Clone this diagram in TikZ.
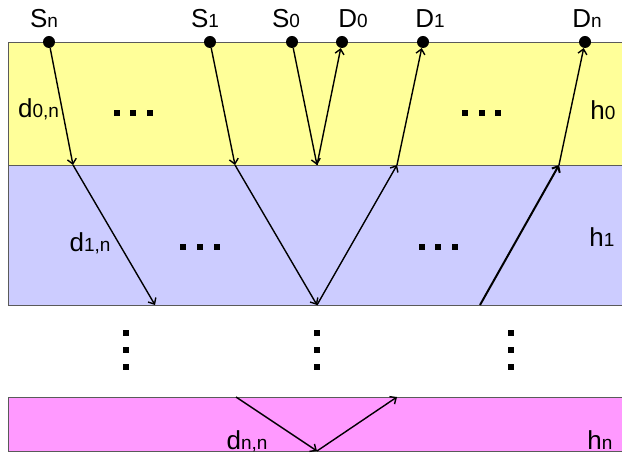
\documentclass[tikz,border=0pt]{standalone}
\usepackage{fontspec}
\setmainfont{Liberation Sans}
\usetikzlibrary{arrows.meta}
\definecolor{layY}{HTML}{FFFF99}
\definecolor{layB}{HTML}{CCCCFF}
\definecolor{layP}{HTML}{FF99FF}
\definecolor{edgeG}{HTML}{5A5A5A}
\newcommand\sbs[1]{{\fontsize{19}{19}\selectfont #1}}
\begin{document}
\begin{tikzpicture}[x=1pt,y=-1pt,
  lbl/.style={font=\fontsize{26}{26}\selectfont, anchor=base, inner sep=0pt},
  dotnode/.style={circle, fill=black, minimum size=12pt, inner sep=0pt},
  sqnode/.style={rectangle, fill=black, minimum size=6pt, inner sep=0pt},
  layer/.style={draw=edgeG, line width=0.8pt},
  ray/.style={line width=1.4pt, -{Straight Barb[length=5pt,width=9pt]}}]
\useasboundingbox (0,0) rectangle (622,454);
% layers
\fill[layY] (8,42) rectangle (630,165);
\fill[layB] (8,165) rectangle (630,305);
\fill[layP] (8,397) rectangle (630,451);
\draw[layer] (630,42) -- (8,42) -- (8,305) -- (630,305);
\draw[layer] (8,165) -- (630,165);
\draw[layer] (630,397) -- (8,397) -- (8,451) -- (630,451);
% sources / detectors
\node[dotnode] (Sn) at (49,42) {};
\node[dotnode] (S1) at (210,42) {};
\node[dotnode] (S0) at (292,42) {};
\node[dotnode] (D0) at (342,42) {};
\node[dotnode] (D1) at (423,42) {};
\node[dotnode] (Dn) at (585,42) {};
% interface points
\coordinate (a1) at (73,165);
\coordinate (b1) at (155,305);
\coordinate (a2) at (235,165);
\coordinate (b2) at (317,305);
\coordinate (a3) at (317,165);
\coordinate (c2) at (397,165);
\coordinate (b4) at (480,305);
\coordinate (c3) at (559,165);
\coordinate (p1) at (236,397);
\coordinate (p2) at (317,451);
\coordinate (p3) at (397,397);
% rays
\draw[ray] (Sn) -- (a1);
\draw[ray] (a1) -- (b1);
\draw[ray] (S1) -- (a2);
\draw[ray] (a2) -- (b2);
\draw[ray] (S0) -- (a3);
\draw[ray] (a3) -- (D0);
\draw[ray] (b2) -- (c2);
\draw[ray] (c2) -- (D1);
\draw[ray, line width=2pt] (b4) -- (c3);
\draw[ray] (c3) -- (Dn);
\draw[ray] (p1) -- (p2);
\draw[ray] (p2) -- (p3);
% labels
\node[lbl] (lSn) at (44,28) {S\sbs{n}};
\node[lbl] (lS1) at (205,28) {S\sbs{1}};
\node[lbl] (lS0) at (286,28) {S\sbs{0}};
\node[lbl] (lD0) at (353,28) {D\sbs{0}};
\node[lbl] (lD1) at (430,28) {D\sbs{1}};
\node[lbl] (lDn) at (587,28) {D\sbs{n}};
\node[lbl] (ld0) at (38.5,118) {d\sbs{0,n}};
\node[lbl] (ld1) at (90,252) {d\sbs{1,n}};
\node[lbl] (ldn) at (247,450) {d\sbs{n,n}};
\node[lbl] (lh0) at (603,120) {h\sbs{0}};
\node[lbl] (lh1) at (602,247) {h\sbs{1}};
\node[lbl] (lhn) at (600,450) {h\sbs{n}};
% ellipses
\foreach \x [count=\i] in {117,133,150} \node[sqnode] (ya\i) at (\x,113) {};
\foreach \x [count=\i] in {465,482,498} \node[sqnode] (yb\i) at (\x,113) {};
\foreach \x [count=\i] in {183,200,217} \node[sqnode] (ba\i) at (\x,247) {};
\foreach \x [count=\i] in {422,438,455} \node[sqnode] (bb\i) at (\x,247) {};
\foreach \y [count=\i] in {333,350,367} {
  \node[sqnode] (va\i) at (126,\y) {};
  \node[sqnode] (vb\i) at (317,\y) {};
  \node[sqnode] (vc\i) at (511,\y) {};
}
\end{tikzpicture}
\end{document}
